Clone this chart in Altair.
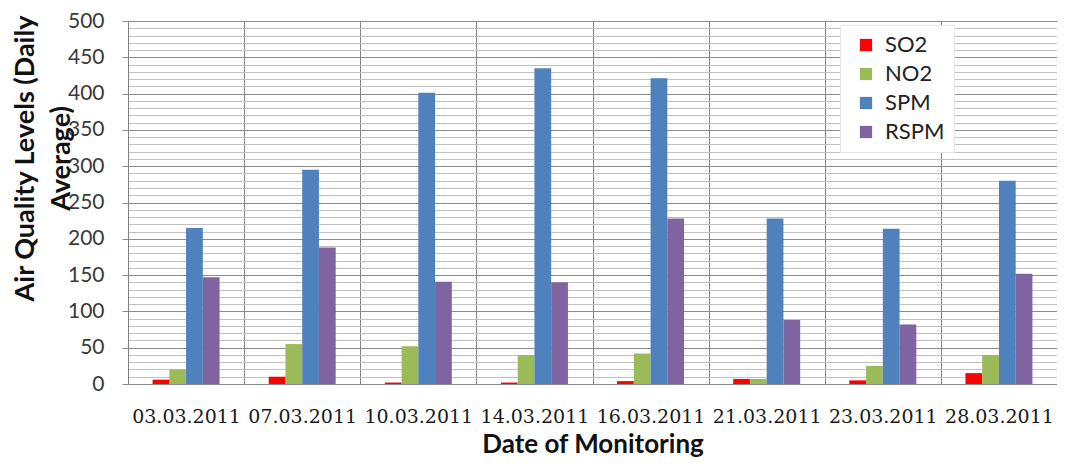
import altair as alt
import pandas as pd

dates = ["03.03.2011", "07.03.2011", "10.03.2011", "14.03.2011",
         "16.03.2011", "21.03.2011", "23.03.2011", "28.03.2011"]
pollutants = ["SO2", "NO2", "SPM", "RSPM"]
so2 = [6, 10, 2, 2, 4, 7, 5, 15]
no2 = [20, 55, 52, 40, 42, 7, 25, 40]
spm = [215, 295, 401, 435, 421, 228, 214, 280]
rspm = [147, 188, 141, 140, 228, 88, 82, 152]
colors = ["#FF0000", "#9BBB59", "#4F81BD", "#8064A2"]
y_ticks = list(range(0, 501, 10))

series = {"SO2": so2, "NO2": no2, "SPM": spm, "RSPM": rspm}
rows = []
for p in pollutants:
    for d, v in zip(dates, series[p]):
        rows.append({"Date": d, "Pollutant": p, "Value": v})
df = pd.DataFrame(rows)

major = "datum.value % 50 === 0"

W, H = 929, 363
step = W / len(dates)
group = 67
off0 = (step - group) / 2

bars = alt.Chart(df).mark_bar().encode(
    x=alt.X(
        "Date:N", sort=dates,
        scale=alt.Scale(paddingInner=0, paddingOuter=0),
        axis=alt.Axis(
            title="Date of Monitoring", tickBand="extent", grid=True,
            gridColor="#828282", gridWidth=1, ticks=False, domain=False,
            labelAngle=0, labelFont="DejaVu Serif", labelFontSize=19,
            labelColor="#1a1a1a", labelPadding=23,
            titleFont="Lato", titleFontSize=26, titleFontWeight="bold",
            titleColor="#111", titleY=68, titleBaseline="alphabetic",
        ),
    ),
    xOffset=alt.XOffset(
        "Pollutant:N", sort=pollutants,
        scale=alt.Scale(paddingInner=0, paddingOuter=0, range=[off0, off0 + group]),
    ),
    y=alt.Y(
        "Value:Q",
        scale=alt.Scale(domain=[0, 500], nice=False),
        axis=alt.Axis(
            values=y_ticks,
            labelExpr="datum.value % 50 === 0 ? datum.label : ''",
            gridColor={"condition": {"test": major, "value": "#8c8c8c"}, "value": "#c2c2c2"},
            gridWidth=1,
            tickSize={"condition": {"test": major, "value": 6}, "value": 0},
            tickColor="#909090",
            domainColor="#828282",
            labelFont="Lato", labelFontSize=21, labelColor="#3a3a3a",
            labelPadding=18,
            title=["Air Quality Levels (Daily", "Average)"],
            titleFont="Lato", titleFontSize=27, titleFontWeight="bold",
            titleColor="#111", titleAngle=270, titleAlign="center",
            titleBaseline="top", titleX=-116, titleY=137, titleLineHeight=36,
        ),
    ),
    color=alt.Color(
        "Pollutant:N", sort=pollutants,
        scale=alt.Scale(domain=pollutants, range=colors),
        legend=alt.Legend(
            title=None, orient="none", legendX=712, legendY=4,
            fillColor="white", strokeColor="#e6e6e6", padding=9,
            symbolType="square", symbolSize=150, symbolStrokeWidth=0,
            symbolOffset=6, labelFont="Lato", labelFontSize=22,
            labelColor="#222", labelOffset=8, rowPadding=7,
        ),
    ),
)

chart = bars.properties(
    width=W, height=H,
    padding={"left": 120, "top": 13, "right": 0, "bottom": 74},
    autosize=alt.AutoSizeParams(type="none"),
).configure_view(stroke="#8c8c8c")

chart.save("out.html", embed_options={"renderer": "svg", "actions": False})
